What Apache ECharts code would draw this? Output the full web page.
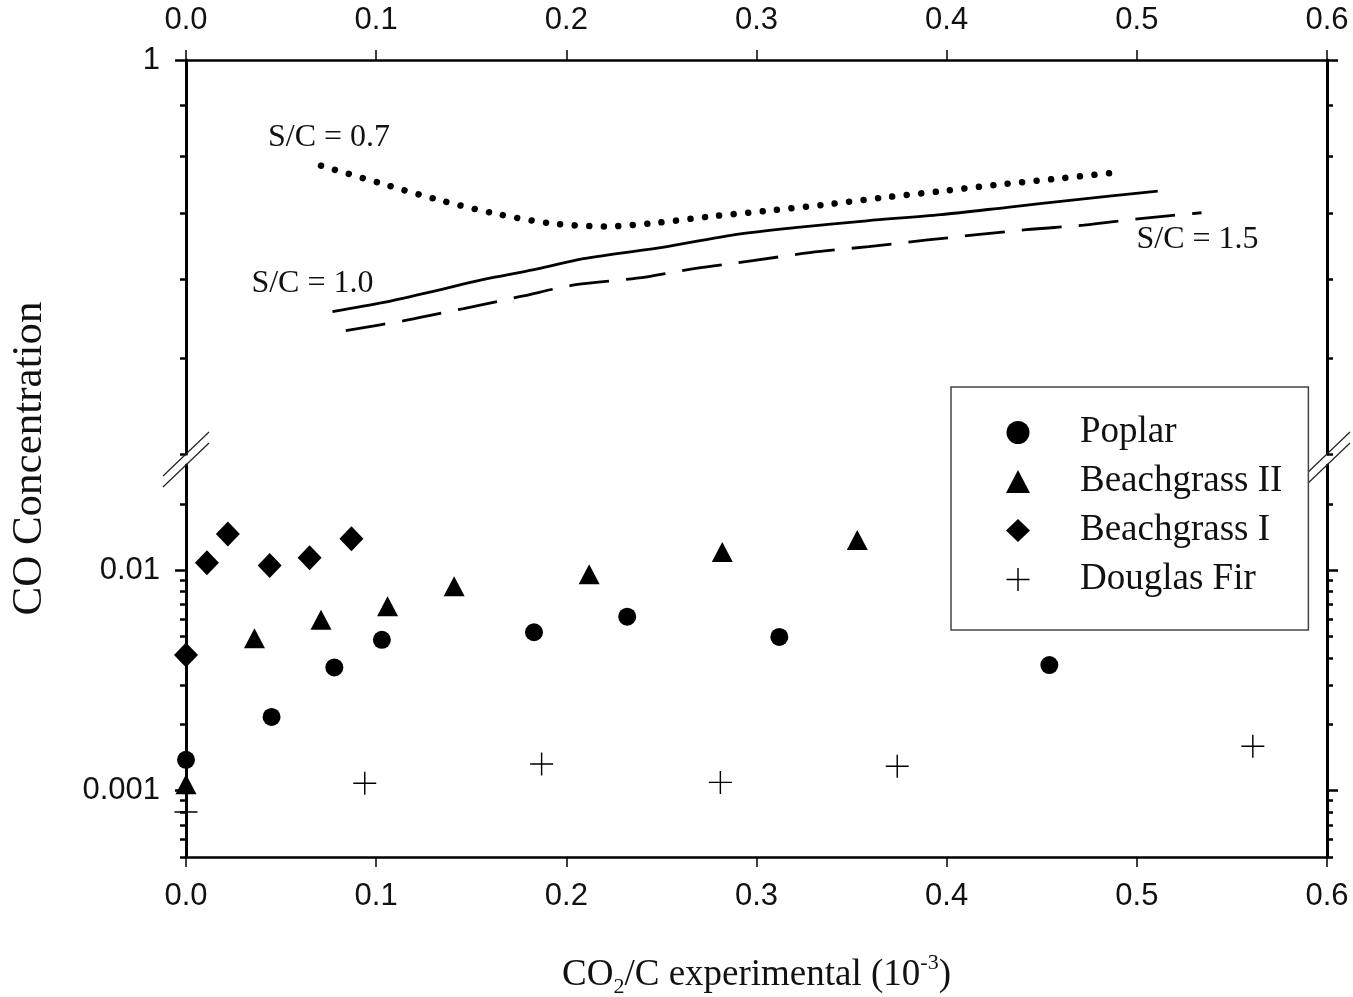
<!DOCTYPE html>
<html><head><meta charset="utf-8">
<script src="https://cdn.jsdelivr.net/npm/echarts@6/dist/echarts.min.js"></script>
<style>html,body{margin:0;padding:0;background:#fff}#c{width:1353px;height:997px}</style>
</head><body><div id="c"></div>
<script>
// ---- data ----
const poplarX = [0.0, 0.045, 0.078, 0.103, 0.183, 0.232, 0.312, 0.454];
const poplarY = [0.00138, 0.00216, 0.00362, 0.00483, 0.00523, 0.00615, 0.00498, 0.00371];
const bg2X = [0.0, 0.036, 0.071, 0.106, 0.141, 0.212, 0.282, 0.353];
const bg2Y = [0.00107, 0.00491, 0.00596, 0.00686, 0.00845, 0.00959, 0.0121, 0.0137];
const bg1X = [0.0, 0.011, 0.022, 0.044, 0.065, 0.087];
const bg1Y = [0.00412, 0.0108, 0.0146, 0.0105, 0.0114, 0.0139];
const firX = [0.0, 0.094, 0.187, 0.281, 0.374, 0.561];
const firY = [0.00080, 0.00108, 0.00132, 0.00109, 0.00129, 0.00159];

const s07X = [0.071, 0.101, 0.132, 0.162, 0.192, 0.221, 0.245, 0.276, 0.305, 0.335, 0.366, 0.397, 0.426, 0.456, 0.487];
const s07Y = [0.782, 0.752, 0.723, 0.700, 0.684, 0.679, 0.684, 0.695, 0.704, 0.714, 0.726, 0.737, 0.748, 0.758, 0.769];
const s10X = [0.077, 0.104, 0.130, 0.156, 0.183, 0.209, 0.253, 0.288, 0.323, 0.358, 0.397, 0.432, 0.466, 0.511];
const s10Y = [0.557, 0.569, 0.584, 0.600, 0.614, 0.630, 0.648, 0.666, 0.678, 0.688, 0.698, 0.710, 0.722, 0.737];
const s15X = [0.084, 0.116, 0.146, 0.176, 0.205, 0.237, 0.268, 0.298, 0.328, 0.359, 0.390, 0.442, 0.472, 0.503, 0.534];
const s15Y = [0.533, 0.546, 0.561, 0.577, 0.593, 0.602, 0.616, 0.627, 0.639, 0.648, 0.658, 0.674, 0.681, 0.692, 0.701];

const seriesNames = ['Poplar', 'Beachgrass II', 'Beachgrass I', 'Douglas Fir'];
const curveLabels = ['S/C = 0.7', 'S/C = 1.0', 'S/C = 1.5'];

// axis ranges and ticks
const xMin = 0, xMax = 0.6, xStep = 0.1;
const upMin = 0.4, upMax = 1;
const lowMin = 0.0005, lowMax = 0.03;
const upMajor = [1];
const upMinor = [0.9, 0.8, 0.7, 0.6, 0.5, 0.4];
const lowMajor = [0.01, 0.001];
const lowMinor = [0.02, 0.009, 0.008, 0.007, 0.006, 0.005, 0.004, 0.003, 0.002,
                  0.0009, 0.0008, 0.0007, 0.0006, 0.0005];
const upLabelVals = [1], upLabelText = ['1'];
const lowLabelVals = [0.01, 0.001], lowLabelText = ['0.01', '0.001'];

// ---- build ----
const zip = (xs, ys) => xs.map((x, i) => [x, ys[i]]);
const labelFor = (vals, texts) => v => {
  for (let i = 0; i < vals.length; i++) {
    if (Math.abs(Math.log10(v) - Math.log10(vals[i])) < 1e-6) return texts[i];
  }
  return '';
};
const SANS = '"Liberation Sans", Arial, sans-serif';
const SERIF = '"Liberation Serif", "Times New Roman", serif';
const INK = '#111';

function yAx(grid, pos, min, max, ticks, len, labels, showLine) {
  return {
    type: 'log', gridIndex: grid, position: pos, min: min, max: max, logBase: 10,
    axisLine: { show: !!showLine, lineStyle: { color: '#000', width: 3 } },
    axisTick: { show: true, inside: false, length: len, customValues: ticks,
                lineStyle: { color: '#000', width: 2.5 } },
    axisLabel: labels ? { show: true, customValues: labels.vals, formatter: labelFor(labels.vals, labels.texts),
                          margin: 26, fontFamily: SANS, fontSize: 31, color: INK }
                      : { show: false },
    splitLine: { show: false }, minorTick: { show: false }, minorSplitLine: { show: false }
  };
}
function xAx(grid, pos, extra) {
  return Object.assign({
    type: 'value', gridIndex: grid, position: pos, min: xMin, max: xMax, interval: xStep,
    axisLine: { show: true, onZero: false, lineStyle: { color: '#000', width: 2.5 } },
    axisTick: { show: true, inside: false, length: 10, lineStyle: { color: '#000', width: 1.5 } },
    axisLabel: { show: true, margin: 24, fontFamily: SANS, fontSize: 31, color: INK,
                 formatter: v => v.toFixed(1) },
    splitLine: { show: false }
  }, extra || {});
}

const crossPath = 'path://M0,11.25H24V12.75H0ZM11.25,0H12.75V24H11.25Z';

function curve(name, xs, ys, lineStyle, labelText, idx, offset) {
  return {
    name: name, type: 'line', xAxisIndex: 0, yAxisIndex: 0, data: zip(xs, ys),
    showSymbol: false, symbol: 'none', smooth: 0.3, silent: true, z: 3,
    lineStyle: Object.assign({ color: '#000', opacity: 1 }, lineStyle),
    markPoint: {
      symbol: 'circle', symbolSize: 1, silent: true,
      itemStyle: { color: 'rgba(0,0,0,0)' },
      label: { show: true, position: 'inside', offset: offset, formatter: labelText,
               fontFamily: SERIF, fontSize: 32, color: INK },
      data: [{ coord: [xs[idx], ys[idx]] }]
    }
  };
}

function dots(name, xs, ys, symbol, size) {
  return { name: name, type: 'scatter', xAxisIndex: 1, yAxisIndex: 4, data: zip(xs, ys),
    symbol: symbol, symbolSize: size, itemStyle: { color: '#000', opacity: 1 }, z: 5 };
}

const option = {
  animation: false,
  backgroundColor: '#fff',
  grid: [
    { left: 186, right: 26, top: 60, height: 394, containLabel: false, outerBoundsMode: 'none' },
    { left: 186, right: 26, top: 465, height: 392, containLabel: false, outerBoundsMode: 'none' }
  ],
  xAxis: [
    xAx(0, 'top'),
    xAx(1, 'bottom', {
      name: '{a|CO}{s|2}{a|/C experimental (10}{p|-3}{a|)}',
      nameLocation: 'middle', nameGap: 95,
      nameTextStyle: {
        fontFamily: SERIF, fontSize: 37, color: INK,
        rich: {
          a: { fontFamily: SERIF, fontSize: 37, color: INK, lineHeight: 46 },
          s: { fontFamily: SERIF, fontSize: 22, color: INK, lineHeight: 22, verticalAlign: 'bottom' },
          p: { fontFamily: SERIF, fontSize: 22, color: INK, lineHeight: 22, verticalAlign: 'top' }
        }
      }
    })
  ],
  yAxis: [
    yAx(0, 'left', upMin, upMax, upMajor, 11, { vals: upLabelVals, texts: upLabelText }, true),
    yAx(0, 'left', upMin, upMax, upMinor, 6, null, false),
    yAx(0, 'right', upMin, upMax, upMajor, 11, null, true),
    yAx(0, 'right', upMin, upMax, upMinor, 6, null, false),
    yAx(1, 'left', lowMin, lowMax, lowMajor, 11, { vals: lowLabelVals, texts: lowLabelText }, true),
    yAx(1, 'left', lowMin, lowMax, lowMinor, 6, null, false),
    yAx(1, 'right', lowMin, lowMax, lowMajor, 11, null, true),
    yAx(1, 'right', lowMin, lowMax, lowMinor, 6, null, false)
  ],
  legend: {
    orient: 'vertical', left: 951, top: 387,
    padding: [27, 26, 32, 55],
    itemWidth: 24, itemHeight: 23, itemGap: 12,
    backgroundColor: '#fff', borderColor: '#444', borderWidth: 1.5, borderRadius: 0,
    selectedMode: false,
    itemStyle: { opacity: 1 },
    textStyle: { fontFamily: SERIF, fontSize: 37, color: INK, lineHeight: 36, padding: [0, 0, 0, 45] },
    data: seriesNames
  },
  series: [
    curve('S/C 0.7', s07X, s07Y, { width: 6.5, type: [0.01, 14.5], cap: 'round' }, curveLabels[0], 0, [8, -28]),
    curve('S/C 1.0', s10X, s10Y, { width: 2.8, type: 'solid' }, curveLabels[1], 0, [-20, -28]),
    curve('S/C 1.5', s15X, s15Y, { width: 2.8, type: [40, 17] }, curveLabels[2], s15X.length - 1, [-4, 27]),
    dots(seriesNames[0], poplarX, poplarY, 'circle', 18),
    dots(seriesNames[1], bg2X, bg2Y, 'triangle', [21, 20]),
    dots(seriesNames[2], bg1X, bg1Y, 'diamond', [24, 25]),
    dots(seriesNames[3], firX, firY, crossPath, 23)
  ]
};

const chart = echarts.init(document.getElementById('c'), null, { renderer: 'canvas' });
chart.setOption(option);

// break marks and y-axis title
const axL = chart.convertToPixel({ xAxisIndex: 0 }, xMin);
const axR = chart.convertToPixel({ xAxisIndex: 0 }, xMax);
const yA = chart.convertToPixel({ yAxisIndex: 0 }, upMin);
const yB = chart.convertToPixel({ yAxisIndex: 4 }, lowMax);
const topY = chart.convertToPixel({ yAxisIndex: 0 }, upMax);
const botY = chart.convertToPixel({ yAxisIndex: 4 }, lowMin);
function slash(id, x, y) {
  return { id: id, type: 'line', z: 1, silent: true,
    shape: { x1: x - 23, y1: y + 22, x2: x + 23, y2: y - 22 },
    style: { stroke: '#222', lineWidth: 1.2 } };
}
chart.setOption({
  graphic: [
    slash('l1', axL, yA), slash('l2', axL, yB),
    slash('r1', axR, yA), slash('r2', axR, yB),
    { id: 'ytitle', type: 'text', x: 30, y: (topY + botY) / 2, rotation: Math.PI / 2, silent: true,
      style: { text: 'CO Concentration', font: '43px "Liberation Serif"', fill: INK,
               align: 'center', verticalAlign: 'middle', textAlign: 'center', textVerticalAlign: 'middle' } }
  ]
});
</script></body></html>
